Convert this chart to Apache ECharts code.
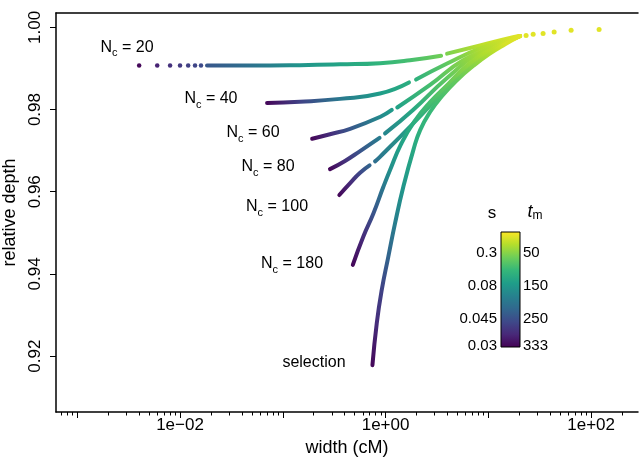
<!DOCTYPE html>
<html>
<head>
<meta charset="utf-8">
<script src="https://cdn.jsdelivr.net/npm/echarts@6/dist/echarts.min.js"></script>
<style>
  html, body { margin: 0; padding: 0; background: #fff; }
  #chart { width: 639px; height: 459px; }
</style>
</head>
<body>
<div id="chart"></div>
<script>
// each point: [width (cM), relative depth, t_m]; null marks a break in the curve
const dotsNc20 = [
  [0.004, 0.9907, 328], [0.006, 0.9907, 300], [0.008, 0.9907, 286], [0.010, 0.9907, 275],
  [0.012, 0.9907, 268], [0.014, 0.9907, 262], [0.016, 0.9907, 256]
];
const curveNc20 = [
  [0.0183, 0.9907, 240], [0.048, 0.9907, 205], [0.147, 0.9908, 153], [0.360, 0.9910, 132],
  [0.883, 0.9913, 107], [1.73, 0.9920, 90], [3.47, 0.9931, 62], null,
  [3.97, 0.9936, 55], [8.32, 0.9956, 20], [17.4, 0.9976, 4], [20.4, 0.9979, 0]
];
const curveNc40 = [
  [0.0703, 0.9816, 328], [0.147, 0.9819, 265], [0.360, 0.9826, 195], [0.883, 0.9839, 142],
  [1.69, 0.9866, 118], null,
  [1.98, 0.9873, 111], [3.97, 0.9912, 72], [8.32, 0.9949, 27], [17.4, 0.9974, 4], [20.4, 0.9979, 0]
];
const curveNc60 = [
  [0.193, 0.9729, 328], [0.288, 0.9740, 290], [0.452, 0.9753, 240], [0.883, 0.9782, 170],
  [1.15, 0.9799, 146], null,
  [1.30, 0.9805, 135], [2.71, 0.9860, 90], [5.68, 0.9920, 48], [12.2, 0.9957, 10], [20.4, 0.9979, 0]
];
const curveNc80 = [
  [0.288, 0.9655, 328], [0.403, 0.9675, 286], [0.565, 0.9699, 244], [0.874, 0.9731, 188], null,
  [0.989, 0.9742, 174], [1.85, 0.9799, 125], [3.97, 0.9877, 72], [8.32, 0.9938, 30], [20.4, 0.9979, 0]
];
const curveNc100 = [
  [0.355, 0.9592, 328], [0.452, 0.9621, 293], [0.565, 0.9646, 258], [0.699, 0.9664, 223], null,
  [0.790, 0.9674, 209], [0.883, 0.9685, 195], [1.85, 0.9766, 132], [3.88, 0.9850, 76],
  [6.64, 0.9906, 45], [11.63, 0.9950, 13], [20.4, 0.9979, 0]
];
const curveNc180 = [
  [0.480, 0.9422, 328], [0.608, 0.9491, 290], [0.761, 0.9547, 244], [0.952, 0.9612, 195],
  [1.106, 0.9653, 160], [1.415, 0.9716, 135], [1.894, 0.9770, 115], [2.71, 0.9818, 90],
  [4.06, 0.9862, 69], [5.81, 0.9901, 48], [8.89, 0.9935, 27], [20.4, 0.9979, 0]
];
const curveSelection = [
  [0.745, 0.9178, 328], [0.821, 0.9280, 290], [0.918, 0.9361, 265], [1.064, 0.9442, 223],
  [1.236, 0.9523, 185], [1.489, 0.9612, 150], [1.866, 0.9702, 125], [2.17, 0.9750, 111],
  [2.71, 0.9794, 100], [3.55, 0.9833, 86], [4.97, 0.9872, 69], [7.11, 0.9906, 48],
  [10.17, 0.9935, 27], [14.56, 0.9959, 6], [20.4, 0.9979, 0]
];
const dotsTop = [
  [23.3, 0.9980, 0], [27.3, 0.9983, 0], [34.1, 0.9985, 0], [43.7, 0.9989, 0],
  [63.9, 0.9993, 0], [119.6, 0.9995, 0]
];

// curve labels
const labelNames = ['20', '40', '60', '80', '100', '180', 'selection'];
const labelWidth = [0.00305, 0.0200, 0.0513, 0.0718, 0.0879, 0.123, 0.201];
const labelDepth = [0.9950, 0.98255, 0.97428, 0.96601, 0.95628, 0.94241, 0.91832];

// axes
const yTicks = [0.92, 0.94, 0.96, 0.98, 1.00];
const xMajorTicks = [1e-3, 1e-2, 1e-1, 1, 10, 100];
const xLabelTicks = [1e-2, 1, 100];
const xTickLabels = ['1e\u221202', '1e+00', '1e+02'];

// colour bar
const tmTicks = [50, 150, 250, 333];
const sTickLabels = ['0.3', '0.08', '0.045', '0.03'];
const tmTickLabels = ['50', '150', '250', '333'];
const tmTop = -15, tmBottom = 335;

const viridis = ['#440154', '#482878', '#3e4989', '#31688e', '#26828e',
                 '#1f9e89', '#35b779', '#6ece58', '#b5de2b', '#fde725'];
const FONT = 'Liberation Sans';
const INK = '#000';

const lx = v => Math.log10(v);

function hexRgb(h) {
  return [1, 3, 5].map(i => parseInt(h.slice(i, i + 2), 16));
}
function tmColor(tm) {
  let f = (tmBottom - tm) / (tmBottom - tmTop);
  f = Math.max(0, Math.min(1, f)) * (viridis.length - 1);
  const i = Math.min(Math.floor(f), viridis.length - 2);
  const t = f - i;
  const a = hexRgb(viridis[i]), b = hexRgb(viridis[i + 1]);
  const c = a.map((v, k) => Math.round(v + (b[k] - v) * t));
  return `rgb(${c[0]},${c[1]},${c[2]})`;
}

// minor ticks at 2..9 x 10^n
const xMinorTicks = [];
for (let n = -4; n <= 2; n++) {
  for (let k = 2; k <= 9; k++) xMinorTicks.push(k * Math.pow(10, n));
}

// split curves into line segments at the breaks
const segments = [];
[curveNc20, curveNc40, curveNc60, curveNc80, curveNc100, curveNc180, curveSelection].forEach(c => {
  let cur = [];
  c.forEach(p => {
    if (p === null) { segments.push(cur); cur = []; }
    else cur.push(p);
  });
  if (cur.length) segments.push(cur);
});

const series = [];
segments.forEach((seg, i) => {
  series.push({
    id: 'seg' + i,
    type: 'line',
    xAxisIndex: 0,
    yAxisIndex: 0,
    data: seg.map(p => [lx(p[0]), p[1]]),
    showSymbol: false,
    symbol: 'none',
    smooth: 0.5,
    silent: true,
    lineStyle: { width: 4, cap: 'round', join: 'round', color: tmColor(seg[0][2]) },
    z: 2
  });
});

function dotSeries(arr, size) {
  return {
    type: 'scatter',
    xAxisIndex: 0,
    yAxisIndex: 0,
    symbolSize: size,
    silent: true,
    data: arr.map(p => ({ value: [lx(p[0]), p[1]], itemStyle: { color: tmColor(p[2]), opacity: 1 } })),
    z: 3
  };
}
series.push(dotSeries(dotsNc20, 4.5));
series.push(dotSeries(dotsTop, 5));

series.push({
  type: 'scatter',
  xAxisIndex: 0,
  yAxisIndex: 0,
  symbolSize: 1,
  silent: true,
  itemStyle: { color: '#fff', opacity: 1 },
  data: labelNames.map((n, i) => ({ name: n, value: [lx(labelWidth[i]), labelDepth[i]] })),
  label: {
    show: true,
    position: 'inside',
    color: INK,
    formatter: p => p.name === 'selection' ? '{n|selection}' : '{n|N}{c|c}{n| = ' + p.name + '}',
    rich: {
      n: { fontFamily: FONT, fontSize: 16, color: INK, lineHeight: 22 },
      c: { fontFamily: FONT, fontSize: 11, color: INK, lineHeight: 11, verticalAlign: 'bottom' }
    }
  },
  z: 5
});

const barStops = viridis.map((c, i) => ({ offset: i / (viridis.length - 1), color: viridis[viridis.length - 1 - i] }));

const xMin = lx(6.21e-4), xMax = lx(286);
const hiddenX = {
  axisLine: { show: false }, axisTick: { show: false }, axisLabel: { show: false }, splitLine: { show: false }
};

const option = {
  animation: false,
  backgroundColor: '#fff',
  textStyle: { fontFamily: FONT },
  grid: [
    { left: 56, top: 13, right: 1, bottom: 47, outerBoundsMode: 'none', containLabel: false },
    {
      left: 501, top: 232, width: 19, height: 115, show: true,
      outerBoundsMode: 'none', containLabel: false,
      borderColor: '#000', borderWidth: 1,
      backgroundColor: new echarts.graphic.LinearGradient(0, 0, 0, 1, barStops)
    }
  ],
  xAxis: [
    {
      type: 'value', gridIndex: 0, position: 'bottom', min: xMin, max: xMax,
      axisLine: { onZero: false, lineStyle: { color: '#000', width: 1.5 } },
      axisTick: { customValues: xMajorTicks.map(lx), length: 6, lineStyle: { color: '#000', width: 1 } },
      axisLabel: {
        customValues: xLabelTicks.map(lx), margin: 5, fontSize: 17, color: INK, fontFamily: FONT,
        formatter: v => xTickLabels[xLabelTicks.findIndex(t => Math.abs(lx(t) - v) < 1e-6)]
      },
      splitLine: { show: false },
      name: 'width (cM)', nameLocation: 'middle', nameGap: 27,
      nameTextStyle: { fontSize: 18, color: INK, fontFamily: FONT }
    },
    {
      type: 'value', gridIndex: 0, position: 'bottom', min: xMin, max: xMax,
      axisLine: { show: false, onZero: false },
      axisTick: { customValues: xMinorTicks.map(lx), length: 3.5, lineStyle: { color: '#000', width: 1 } },
      axisLabel: { show: false }, splitLine: { show: false }
    },
    {
      type: 'value', gridIndex: 0, position: 'top', min: xMin, max: xMax,
      axisLine: { onZero: false, lineStyle: { color: '#000', width: 1.5 } },
      axisTick: { show: false }, axisLabel: { show: false }, splitLine: { show: false }
    },
    Object.assign({ type: 'value', gridIndex: 1, min: 0, max: 1 }, hiddenX)
  ],
  yAxis: [
    {
      type: 'value', gridIndex: 0, position: 'left', min: 0.9064, max: 1.0035,
      axisLine: { show: true, onZero: false, lineStyle: { color: '#000', width: 1.5 } },
      axisTick: { show: true, customValues: yTicks, length: 6, lineStyle: { color: '#000', width: 1 } },
      axisLabel: {
        customValues: yTicks, rotate: 90, margin: 12, fontSize: 17, color: INK, fontFamily: FONT,
        formatter: v => v.toFixed(2)
      },
      splitLine: { show: false },
      name: 'relative depth', nameLocation: 'middle', nameGap: 35,
      nameTextStyle: { fontSize: 18, color: INK, fontFamily: FONT }
    },
    {
      type: 'value', gridIndex: 1, position: 'left', min: tmTop, max: tmBottom, inverse: true,
      axisLine: { show: false, onZero: false }, axisTick: { show: false }, splitLine: { show: false },
      axisLabel: {
        customValues: tmTicks, margin: 4, fontSize: 15, color: INK, fontFamily: FONT,
        formatter: v => sTickLabels[tmTicks.indexOf(v)]
      },
      name: 's', nameLocation: 'start', nameGap: 10,
      nameTextStyle: { fontSize: 17, color: INK, fontFamily: FONT, padding: [0, 18, 0, 0] }
    },
    {
      type: 'value', gridIndex: 1, position: 'right', min: tmTop, max: tmBottom, inverse: true,
      axisLine: { show: false, onZero: false }, axisTick: { show: false }, splitLine: { show: false },
      axisLabel: {
        customValues: tmTicks, margin: 3, fontSize: 15, color: INK, fontFamily: FONT,
        formatter: v => tmTickLabels[tmTicks.indexOf(v)]
      },
      name: '{t|t}{m|m}', nameLocation: 'start', nameGap: 10,
      nameTextStyle: {
        padding: [0, 0, 0, 30],
        rich: {
          t: { fontFamily: FONT, fontSize: 18, fontStyle: 'italic', color: INK, lineHeight: 20 },
          m: { fontFamily: FONT, fontSize: 12, color: INK, lineHeight: 12, verticalAlign: 'bottom' }
        }
      }
    }
  ],
  series: series
};

const chart = echarts.init(document.getElementById('chart'));
chart.setOption(option);

// colour each segment along its length by t_m
const updates = segments.map((seg, i) => {
  const px = seg.map(p => chart.convertToPixel({ seriesIndex: i }, [lx(p[0]), p[1]]));
  const s = px[0], e = px[px.length - 1];
  const dx = e[0] - s[0], dy = e[1] - s[1];
  const len2 = dx * dx + dy * dy || 1;
  let last = 0;
  const stops = px.map((q, k) => {
    let o = ((q[0] - s[0]) * dx + (q[1] - s[1]) * dy) / len2;
    o = Math.max(last, Math.min(1, o));
    last = o;
    return { offset: o, color: tmColor(seg[k][2]) };
  });
  return {
    id: 'seg' + i,
    lineStyle: { color: new echarts.graphic.LinearGradient(s[0], s[1], e[0], e[1], stops, true) }
  };
});
chart.setOption({ series: updates });
</script>
</body>
</html>
